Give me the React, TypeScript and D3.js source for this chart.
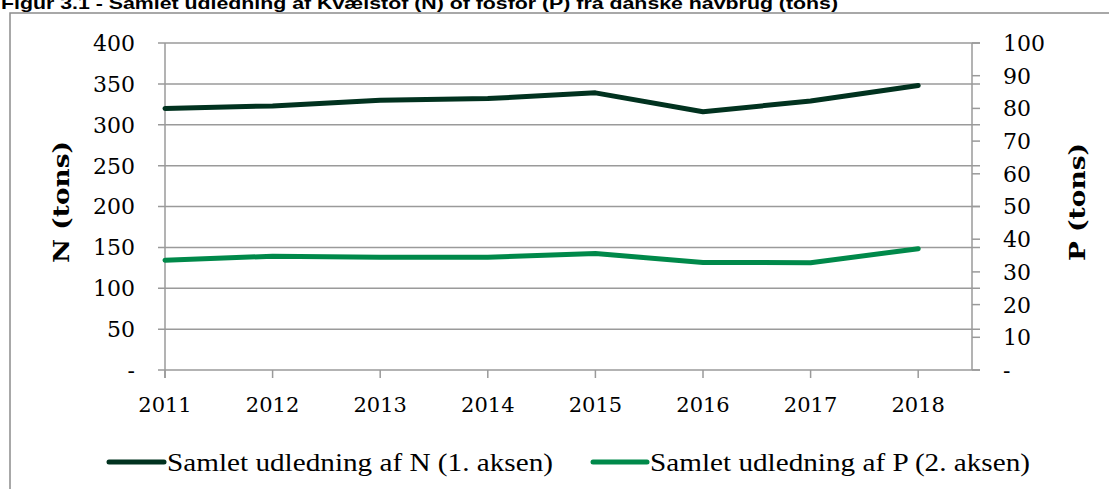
import * as d3 from "d3";

const years = [2011, 2012, 2013, 2014, 2015, 2016, 2017, 2018];
const nValues = [320, 323, 330, 332, 339, 316, 329, 348];
const pValues = [33.6, 34.8, 34.5, 34.5, 35.6, 32.9, 32.8, 37.1];
const leftTicks = [0, 50, 100, 150, 200, 250, 300, 350, 400];
const rightTicks = [0, 10, 20, 30, 40, 50, 60, 70, 80, 90, 100];
const seriesNames = ["Samlet udledning af N (1. aksen)", "Samlet udledning af P (2. aksen)"];

const W = 1109;
const H = 489;
const plot = { left: 165, right: 972, top: 43, bottom: 370 };
const nColor = "#01321f";
const pColor = "#00894a";
const gridColor = "#9a9a9a";
const serif = "'DejaVu Serif', Georgia, serif";
const legendFont = "'Liberation Serif', 'Times New Roman', serif";

export default function App() {
  // 2011 sits on the left axis, 2018 half a step short of the right axis
  const x = d3.scaleLinear().domain([2011, 2018.5]).range([plot.left, plot.right]);
  const yN = d3.scaleLinear().domain([0, 400]).range([plot.bottom, plot.top]);
  const yP = d3.scaleLinear().domain([0, 100]).range([plot.bottom, plot.top]);

  const lineN = d3
    .line<number>()
    .x((_, i) => x(years[i]))
    .y((d) => yN(d));
  const lineP = d3
    .line<number>()
    .x((_, i) => x(years[i]))
    .y((d) => yP(d));

  const fmt = (v: number) => (v === 0 ? "-" : String(v));

  return (
    <svg
      width={W}
      height={H}
      style={{ position: "fixed", left: 0, top: 0, background: "#fff" }}
    >
      <text
        x={1}
        y={9}
        fontFamily="'Liberation Sans', Arial, sans-serif"
        fontWeight="bold"
        fontSize={17}
        textLength={837}
        lengthAdjust="spacingAndGlyphs"
        fill="#000"
      >
        Figur 3.1 - Samlet udledning af Kvælstof (N) of fosfor (P) fra danske havbrug (tons)
      </text>

      {/* chart frame, runs off the right and bottom edge */}
      <rect x={10} y={13} width={1120} height={500} fill="none" stroke="#8c8c8c" strokeWidth={1.5} />

      {/* horizontal grid */}
      {leftTicks.slice(1).map((t) => (
        <line
          key={`g${t}`}
          x1={plot.left - 7}
          x2={plot.right + 8}
          y1={yN(t)}
          y2={yN(t)}
          stroke={gridColor}
          strokeWidth={1.5}
        />
      ))}

      {/* axes */}
      <line x1={plot.left} x2={plot.left} y1={plot.top} y2={plot.bottom + 8} stroke={gridColor} strokeWidth={1.5} />
      <line x1={plot.right} x2={plot.right} y1={plot.top} y2={plot.bottom} stroke={gridColor} strokeWidth={1.5} />
      <line x1={plot.left - 7} x2={plot.right + 8} y1={plot.bottom} y2={plot.bottom} stroke={gridColor} strokeWidth={1.5} />

      {years.map((yr) => (
        <line
          key={`xt${yr}`}
          x1={x(yr)}
          x2={x(yr)}
          y1={plot.bottom}
          y2={plot.bottom + 8}
          stroke={gridColor}
          strokeWidth={1.5}
        />
      ))}
      {rightTicks.map((t) => (
        <line
          key={`rt${t}`}
          x1={plot.right}
          x2={plot.right + 8}
          y1={yP(t)}
          y2={yP(t)}
          stroke={gridColor}
          strokeWidth={1.5}
        />
      ))}

      {/* tick labels */}
      {leftTicks.map((t) => (
        <text key={`lt${t}`} x={135} y={yN(t)} dy="0.36em" textAnchor="end" fontFamily={serif} fontSize={22} fill="#000">
          {fmt(t)}
        </text>
      ))}
      {rightTicks.map((t) => (
        <text key={`rl${t}`} x={1003} y={yP(t)} dy="0.36em" textAnchor="start" fontFamily={serif} fontSize={22} fill="#000">
          {fmt(t)}
        </text>
      ))}
      {years.map((yr) => (
        <text key={`xl${yr}`} x={x(yr)} y={412} textAnchor="middle" fontFamily={serif} fontSize={21} fill="#000">
          {yr}
        </text>
      ))}

      {/* axis titles */}
      <text
        transform="translate(69,202) rotate(-90)"
        textAnchor="middle"
        fontFamily={serif}
        fontWeight="bold"
        fontSize={23}
        textLength={122}
        lengthAdjust="spacingAndGlyphs"
        fill="#000"
      >
        N (tons)
      </text>
      <text
        transform="translate(1085,202) rotate(-90)"
        textAnchor="middle"
        fontFamily={serif}
        fontWeight="bold"
        fontSize={23}
        textLength={118}
        lengthAdjust="spacingAndGlyphs"
        fill="#000"
      >
        P (tons)
      </text>

      {/* series */}
      <path d={lineN(nValues) ?? ""} fill="none" stroke={nColor} strokeWidth={5} strokeLinecap="round" strokeLinejoin="round" />
      <path d={lineP(pValues) ?? ""} fill="none" stroke={pColor} strokeWidth={5} strokeLinecap="round" strokeLinejoin="round" />

      {/* legend */}
      <line x1={109} x2={164} y1={462} y2={462} stroke={nColor} strokeWidth={5} strokeLinecap="round" />
      <text x={167} y={471} fontFamily={legendFont} fontSize={26} textLength={386} lengthAdjust="spacingAndGlyphs" fill="#000">
        {seriesNames[0]}
      </text>
      <line x1={593} x2={647} y1={462} y2={462} stroke={pColor} strokeWidth={5} strokeLinecap="round" />
      <text x={650} y={471} fontFamily={legendFont} fontSize={26} textLength={380} lengthAdjust="spacingAndGlyphs" fill="#000">
        {seriesNames[1]}
      </text>
    </svg>
  );
}
